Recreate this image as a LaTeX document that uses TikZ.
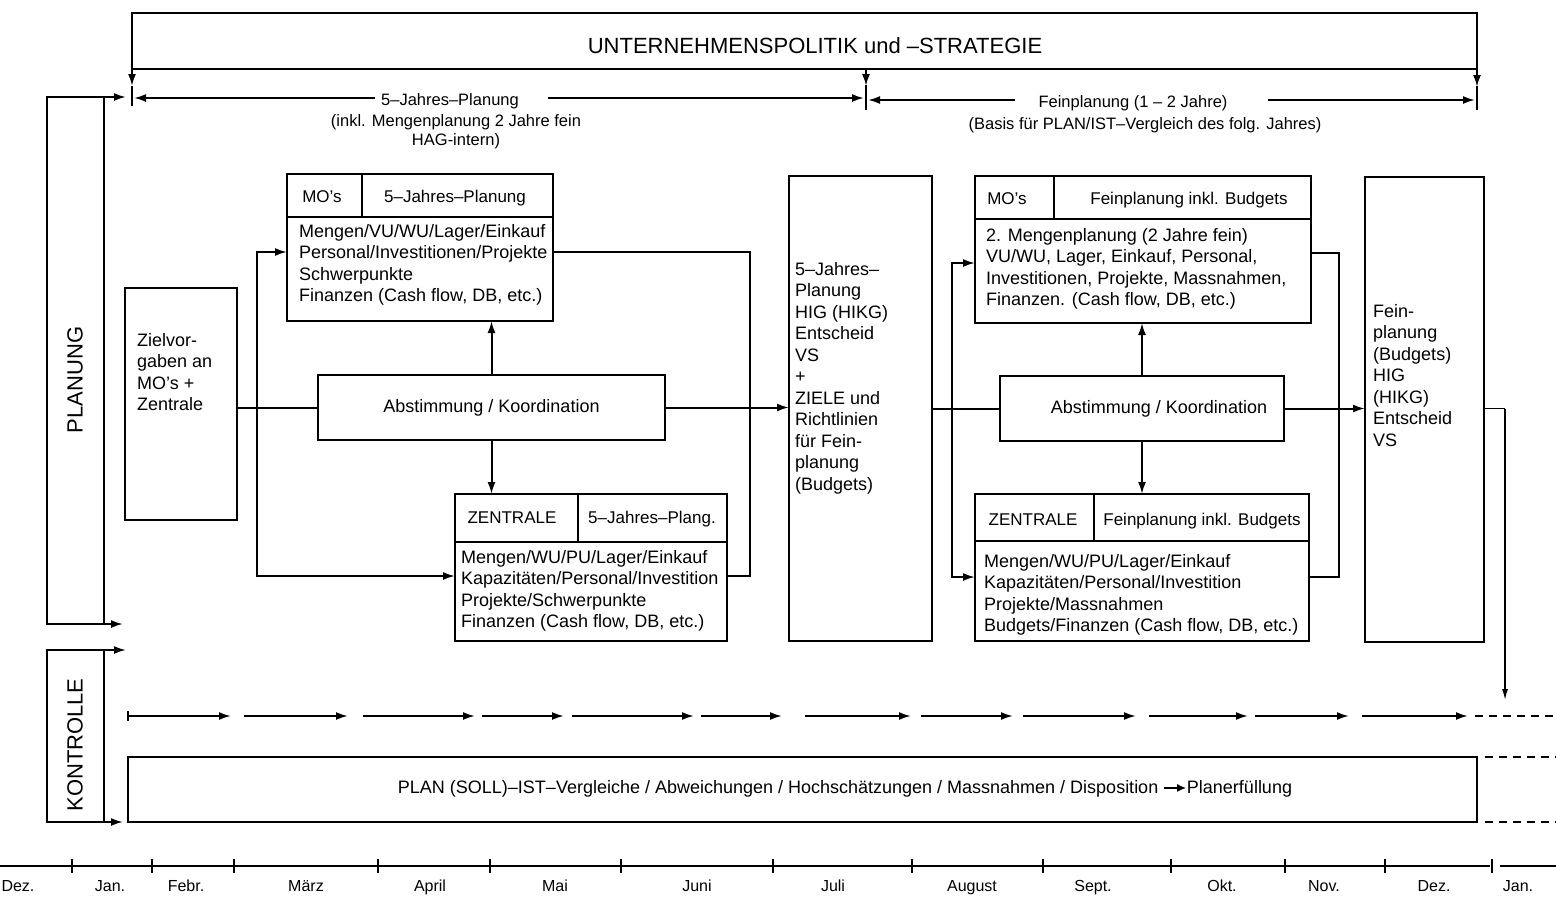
\documentclass[tikz,border=0pt]{standalone}
\usepackage{fontspec}
\setmainfont{Liberation Sans}
\usetikzlibrary{arrows.meta}
\begin{document}
\begin{tikzpicture}[x=1pt,y=-1pt,
  bbox/.style={draw, line width=2.6pt, inner sep=0pt, outer sep=0pt},
  divl/.style={line width=2.4pt},
  ln/.style={line width=2pt},
  thinln/.style={line width=1.4pt},
  arr/.style={line width=2pt, -{Latex[length=12pt,width=8pt]}},
  thinarr/.style={line width=1.4pt, -{Latex[length=11pt,width=6pt]}},
  body/.style={font=\fontsize{18}{21.5}\selectfont, inner sep=0pt, align=left, anchor=north west},
  lbl/.style={font=\fontsize{18}{21.5}\selectfont, inner sep=0pt},
  hdr/.style={font=\fontsize{17}{21}\selectfont, inner sep=0pt, anchor=base},
  small/.style={font=\fontsize{16.5}{19}\selectfont, inner sep=0pt},
  big/.style={font=\fontsize{22}{25}\selectfont, inner sep=0pt},
  month/.style={font=\fontsize{16}{19}\selectfont, inner sep=0pt, anchor=base},
  dsh/.style={line width=2pt, dash pattern=on 8pt off 6pt},
]
\newcommand\mybox[5]{\node[bbox, minimum width={(#4)-(#2)}, minimum height={(#5)-(#3)}] (#1) at ({((#2)+(#4))/2},{((#3)+(#5))/2}) {};}
\useasboundingbox (0,0) rectangle (1556,898);
\fill[white] (0,0) rectangle (1556,898);

% ---------- top: Unternehmenspolitik ----------
\mybox{top}{132}{13}{1477}{69}
\node[big] (title) at (815,46) {UNTERNEHMENSPOLITIK und –STRATEGIE};
\coordinate (ta) at (132,86);
\coordinate (tm) at (866,69);
\coordinate (tb) at (866,86);
\coordinate (tc) at (1477,87);
\draw[arr] (top.south west) -- (ta);
\draw[arr] (tm) -- (tb);
\draw[arr] (top.south east) -- (tc);
\draw[ln] (132,86) -- (132,106);
\draw[ln] (866,85) -- (866,110);
\draw[ln] (1477,86) -- (1477,110);

% ---------- planning horizon row ----------
\node[small] (p5) at (450,101) {5–Jahres–Planung};
\node[small] (p5b) at (456,122) {(inkl. Mengenplanung 2 Jahre fein};
\node[small] (p5c) at (456,141) {HAG-intern)};
\coordinate (p5L1) at (375,98); \coordinate (p5L2) at (134,98);
\coordinate (p5R1) at (548,98); \coordinate (p5R2) at (864,98);
\draw[arr] (p5L1) -- (p5L2);
\draw[arr] (p5R1) -- (p5R2);
\node[small] (fp) at (1133,103) {Feinplanung (1 – 2 Jahre)};
\node[small] (fpb) at (1145,125) {(Basis für PLAN/IST–Vergleich des folg. Jahres)};
\coordinate (fpL1) at (1015,100); \coordinate (fpL2) at (868,100);
\coordinate (fpR1) at (1268,100); \coordinate (fpR2) at (1475,100);
\draw[arr] (fpL1) -- (fpL2);
\draw[arr] (fpR1) -- (fpR2);

% ---------- PLANUNG / KONTROLLE ----------
\mybox{plan}{47}{97}{104}{624}
\node[big, rotate=90] (plant) at (75,380) {PLANUNG};
\coordinate (planTo) at (126,97); \coordinate (planBo) at (123,624);
\draw[arr] (plan.north west) -- (planTo);
\draw[arr] (plan.south west) -- (planBo);

\mybox{kon}{47}{650}{104}{822}
\node[big, rotate=90] (kont) at (75,745) {KONTROLLE};
\coordinate (konTo) at (126,650); \coordinate (konBo) at (123,822);
\draw[arr] (kon.north west) -- (konTo);
\draw[arr] (kon.south west) -- (konBo);

% ---------- 5-year planning block ----------
\mybox{ziel}{125}{288}{237}{520}
\node[body] (zielt) at (137,333) {Zielvor-\\gaben an\\MO’s +\\Zentrale};

\node[bbox, lbl, minimum width=347, minimum height=65] (ab1) at (491.5,407.5) {Abstimmung / Koordination};

\mybox{mo1}{287}{174}{553}{321}
\draw[divl] (287,217) -- (553,217);
\draw[divl] (362,174) -- (362,217);
\node[hdr] (mo1a) at (322,202) {MO’s};
\node[hdr] (mo1b) at (455,202) {5–Jahres–Planung};
\node[body] (mo1t) at (299,224) {Mengen/VU/WU/Lager/Einkauf\\Personal/Investitionen/Projekte\\Schwerpunkte\\Finanzen (Cash flow, DB, etc.)};

\mybox{ze1}{455}{494}{727}{641}
\draw[divl] (455,542) -- (727,542);
\draw[divl] (578,494) -- (578,542);
\node[hdr] (ze1a) at (512,523) {ZENTRALE};
\node[hdr] (ze1b) at (652,523) {5–Jahres–Plang.};
\node[body] (ze1t) at (461,550) {Mengen/WU/PU/Lager/Einkauf\\Kapazitäten/Personal/Investition\\Projekte/Schwerpunkte\\Finanzen (Cash flow, DB, etc.)};

\coordinate (j1) at (257,407.5);
\coordinate (mo1in) at (287,252);
\coordinate (ze1in) at (455,576);
\coordinate (fb1) at (750,252);
\draw[ln] (ziel.east |- ab1.west) -- (ab1.west);
\draw[arr] (j1) |- (mo1in);
\draw[arr] (j1) |- (ze1in);
\draw[arr] (ab1.north) -- (ab1.north |- mo1.south);
\draw[arr] (ab1.south) -- (ab1.south |- ze1.north);
\draw[ln] (mo1.east |- fb1) -- (fb1) |- (ze1.east |- ze1in);

\mybox{fj}{789}{176}{932}{641}
\node[body] (fjt) at (795,262) {5–Jahres–\\Planung\\HIG (HIKG)\\Entscheid\\VS\\+\\ZIELE und\\Richtlinien\\für Fein-\\planung\\(Budgets)};
\draw[arr] (ab1.east) -- (ab1.east -| fj.west);

% ---------- fine planning block ----------
\mybox{ab2}{1000}{376}{1284}{441}
\node[lbl] (ab2t) at (1159,409) {Abstimmung / Koordination};

\mybox{mo2}{975}{176}{1311}{323}
\draw[divl] (975,219) -- (1311,219);
\draw[divl] (1054,176) -- (1054,219);
\node[hdr] (mo2a) at (1007,204) {MO’s};
\node[hdr] (mo2b) at (1189,204) {Feinplanung inkl. Budgets};
\node[body] (mo2t) at (986,228) {2. Mengenplanung (2 Jahre fein)\\VU/WU, Lager, Einkauf, Personal,\\Investitionen, Projekte, Massnahmen,\\Finanzen. (Cash flow, DB, etc.)};

\mybox{ze2}{975}{494}{1309}{641}
\draw[divl] (975,541) -- (1309,541);
\draw[divl] (1094,494) -- (1094,541);
\node[hdr] (ze2a) at (1033,525) {ZENTRALE};
\node[hdr] (ze2b) at (1202,525) {Feinplanung inkl. Budgets};
\node[body] (ze2t) at (984,554) {Mengen/WU/PU/Lager/Einkauf\\Kapazitäten/Personal/Investition\\Projekte/Massnahmen\\Budgets/Finanzen (Cash flow, DB, etc.)};

\coordinate (j2) at (952,408.5);
\coordinate (mo2in) at (975,263);
\coordinate (ze2in) at (975,577);
\coordinate (fb2) at (1339,253);
\draw[ln] (fj.east |- ab2.west) -- (ab2.west);
\draw[arr] (j2) |- (mo2in);
\draw[arr] (j2) |- (ze2in);
\draw[arr] (ab2.north) -- (ab2.north |- mo2.south);
\draw[arr] (ab2.south) -- (ab2.south |- ze2.north);
\draw[ln] (mo2.east |- fb2) -- (fb2) |- (ze2.east |- ze2in);

\mybox{fein}{1365}{177}{1484}{642}
\node[body] (feint) at (1373,304) {Fein-\\planung\\(Budgets)\\HIG\\(HIKG)\\Entscheid\\VS};
\draw[arr] (ab2.east) -- (ab2.east -| fein.west);
\coordinate (fout) at (1505,408.5);
\coordinate (fdown) at (1505,700);
\draw[thinln] (fein.east |- fout) -- (fout);
\draw[thinarr] (fout) -- (fdown);

% ---------- control row ----------
\foreach \a/\b in {128/231,244/348,363/475,482/564,572/694,701/782,805/911,921/1013,1023/1136,1149/1248,1255/1349,1362/1468}
  \draw[arr] (\a,716) -- (\b,716);
\draw[line width=2pt] (128,711) -- (128,721);
\draw[dsh] (1475,716) -- (1556,716);

\mybox{pl}{128}{757}{1477}{822}
\node[lbl] (plt) at (845,789) {PLAN (SOLL)–IST–Vergleiche / Abweichungen / Hochschätzungen / Massnahmen / Disposition \tikz[baseline=-0.6ex]\draw[line width=1.6pt,-{Latex[length=9pt,width=8pt]}] (0pt,0pt) -- (22pt,0pt);Planerfüllung};
\draw[dsh] (1485,757) -- (1556,757);
\draw[dsh] (1485,822) -- (1556,822);

% ---------- month axis ----------
\draw[ln] (0,866) -- (1490,866);
\draw[ln] (1500,866) -- (1556,866);
\foreach \t in {72,152,234,378,490,621,773,912,1043,1171,1285,1385,1492}
  \draw[ln] (\t,859) -- (\t,873);
\foreach \m/\x in {Dez./18,Jan./110,Febr./186,März/306,April/430,Mai/555,Juni/697,Juli/833,August/972,Sept./1093,Okt./1222,Nov./1324,Dez./1434,Jan./1518}
  \node[month] (m\x) at (\x,891) {\m};
\end{tikzpicture}
\end{document}
